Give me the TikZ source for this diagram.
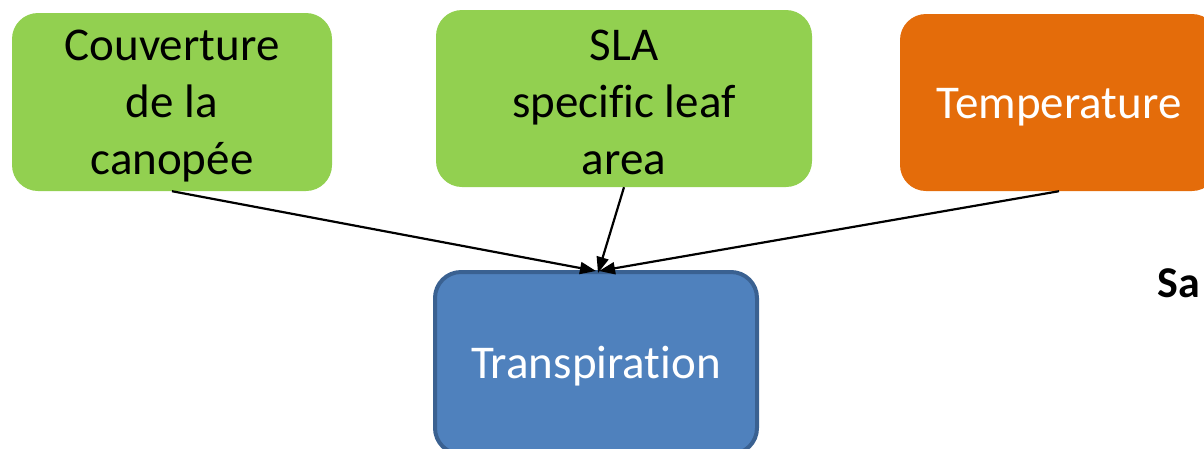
\documentclass[tikz,border=0pt]{standalone}
\usepackage{fontspec}
\setmainfont{Carlito}[Ligatures={NoCommon,NoContextual}]
\usetikzlibrary{arrows.meta}
\definecolor{leafgreen}{HTML}{92D050}
\definecolor{tempor}{HTML}{E46C0A}
\definecolor{tblue}{HTML}{4F81BD}
\definecolor{tbluedark}{HTML}{3A6191}
\tikzset{
  box/.style={rounded corners=26pt, inner sep=0pt},
  greenbox/.style={box, fill=leafgreen},
  orangebox/.style={box, fill=tempor},
  bluebox/.style={box, fill=tblue, draw=tbluedark, line width=4pt},
  boxtext/.style={align=center, inner sep=0pt, font=\fontsize{47}{57}\selectfont},
  link/.style={line width=2.2pt, -{Triangle[length=16pt,width=12pt]}}
}
\begin{document}
\begin{tikzpicture}[x=1pt,y=-1pt]
\useasboundingbox (0,0) rectangle (1204,448);
\clip (0,0) rectangle (1204,448);
\node[greenbox, minimum width=320pt, minimum height=178pt] (b1) at (172,102) {};
\node[greenbox, minimum width=376pt, minimum height=177pt] (b2) at (624,98.5) {};
\node[orangebox, minimum width=318pt, minimum height=177pt] (b3) at (1059,102.5) {};
\node[bluebox, minimum width=322pt, minimum height=182pt] (b4) at (596,363) {};
\node[boxtext, text=black] (t1) at ([yshift=-4pt]b1.center) {Couverture\\de la\\canopée};
\node[boxtext, text=black] (t2) at ([yshift=-4pt]b2.center) {SLA\\specific leaf\\area};
\node[boxtext, text=white] (t3) at ([yshift=-5pt]b3.center) {Temperature};
\node[boxtext, text=white] (t4) at ([yshift=-3pt]b4.center) {Transpiration};
\node[anchor=base west, inner sep=0pt, font=\fontsize{44}{52}\selectfont\bfseries] (sa) at (1157,297) {Sa};
\draw[link] (b1.south) -- ([yshift=-1pt]b4.north);
\draw[link] (b2.south) -- ([xshift=2pt,yshift=-3pt]b4.north);
\draw[link] (b3.south) -- ([xshift=3pt,yshift=-1pt]b4.north);
\end{tikzpicture}
\end{document}
